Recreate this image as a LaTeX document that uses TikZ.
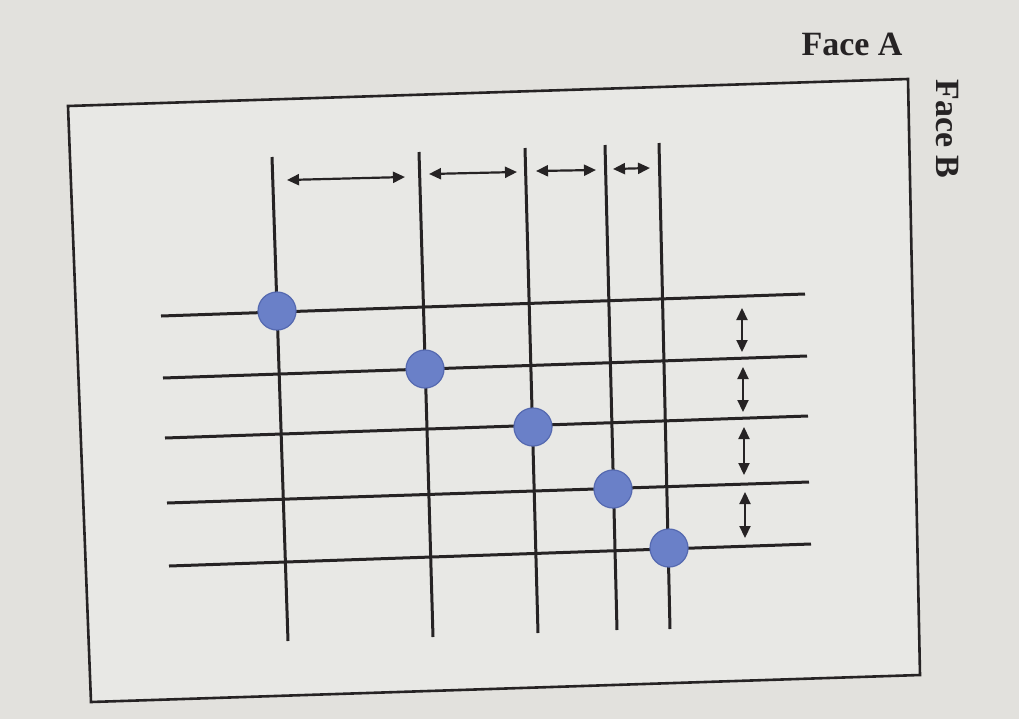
\documentclass[tikz,border=0pt]{standalone}
\usepackage{fontspec}
\setmainfont{Liberation Serif}
\usetikzlibrary{arrows.meta}

\definecolor{paper}{HTML}{E2E1DD}
\definecolor{slide}{HTML}{E8E8E5}
\definecolor{ink}{HTML}{262324}
\definecolor{dotblue}{HTML}{6A80C8}
\definecolor{dotedge}{HTML}{5569B0}

\tikzset{
  gridline/.style={ink,line width=1.5pt},
  gap/.style={ink,line width=1.1pt,{Triangle[length=6pt,width=5.5pt]}-{Triangle[length=6pt,width=5.5pt]}},
  dot/.style={circle,fill=dotblue,draw=dotedge,line width=0.6pt,inner sep=0pt,minimum size=19pt},
  face/.style={font=\bfseries\fontsize{17}{20}\selectfont,text=ink}
}

\begin{document}
\begin{tikzpicture}[x=0.5pt,y=-0.5pt]

% background and slide frame
\fill[paper] (0,0) rectangle (1019,719);
\useasboundingbox (0,0) rectangle (1019,719);
\coordinate (tl) at (68,106);
\coordinate (tr) at (908,79);
\coordinate (br) at (920,675);
\coordinate (bl) at (91,702);
\filldraw[fill=slide,draw=ink,line width=1.3pt] (tl) -- (tr) -- (br) -- (bl) -- cycle;

% face labels
\node[face] (fa) at (852,44) {Face A};
\node[face,rotate=-90] (fb) at (947,129) {Face B};

% vertical lines
\coordinate (v1t) at (272,157); \coordinate (v1b) at (288,641);
\coordinate (v2t) at (419,152); \coordinate (v2b) at (433,637);
\coordinate (v3t) at (525,148); \coordinate (v3b) at (538,633);
\coordinate (v4t) at (605,145); \coordinate (v4b) at (617,630);
\coordinate (v5t) at (659,143); \coordinate (v5b) at (670,629);
\draw[gridline] (v1t) -- (v1b);
\draw[gridline] (v2t) -- (v2b);
\draw[gridline] (v3t) -- (v3b);
\draw[gridline] (v4t) -- (v4b);
\draw[gridline] (v5t) -- (v5b);

% horizontal lines
\coordinate (h1l) at (161,316); \coordinate (h1r) at (805,294);
\coordinate (h2l) at (163,378); \coordinate (h2r) at (807,356);
\coordinate (h3l) at (165,438); \coordinate (h3r) at (808,416);
\coordinate (h4l) at (167,503); \coordinate (h4r) at (809,482);
\coordinate (h5l) at (169,566); \coordinate (h5r) at (811,544);
\draw[gridline] (h1l) -- (h1r);
\draw[gridline] (h2l) -- (h2r);
\draw[gridline] (h3l) -- (h3r);
\draw[gridline] (h4l) -- (h4r);
\draw[gridline] (h5l) -- (h5r);

% spacing arrows between vertical lines
\coordinate (a1l) at (287,180); \coordinate (a1r) at (405,177);
\coordinate (a2l) at (429,174); \coordinate (a2r) at (517,172);
\coordinate (a3l) at (536,171); \coordinate (a3r) at (596,170);
\coordinate (a4l) at (613,169); \coordinate (a4r) at (650,168);
\draw[gap] (a1l) -- (a1r);
\draw[gap] (a2l) -- (a2r);
\draw[gap] (a3l) -- (a3r);
\draw[gap] (a4l) -- (a4r);

% spacing arrows between horizontal lines
\coordinate (b1t) at (742,308); \coordinate (b1b) at (742,352);
\coordinate (b2t) at (743,367); \coordinate (b2b) at (743,412);
\coordinate (b3t) at (744,427); \coordinate (b3b) at (744,475);
\coordinate (b4t) at (745,492); \coordinate (b4b) at (745,538);
\draw[gap] (b1t) -- (b1b);
\draw[gap] (b2t) -- (b2b);
\draw[gap] (b3t) -- (b3b);
\draw[gap] (b4t) -- (b4b);

% blue dots on the crossings
\node[dot] (d1) at (277,311) {};
\node[dot] (d2) at (425,369) {};
\node[dot] (d3) at (533,427) {};
\node[dot] (d4) at (613,489) {};
\node[dot] (d5) at (669,548) {};

\end{tikzpicture}
\end{document}
